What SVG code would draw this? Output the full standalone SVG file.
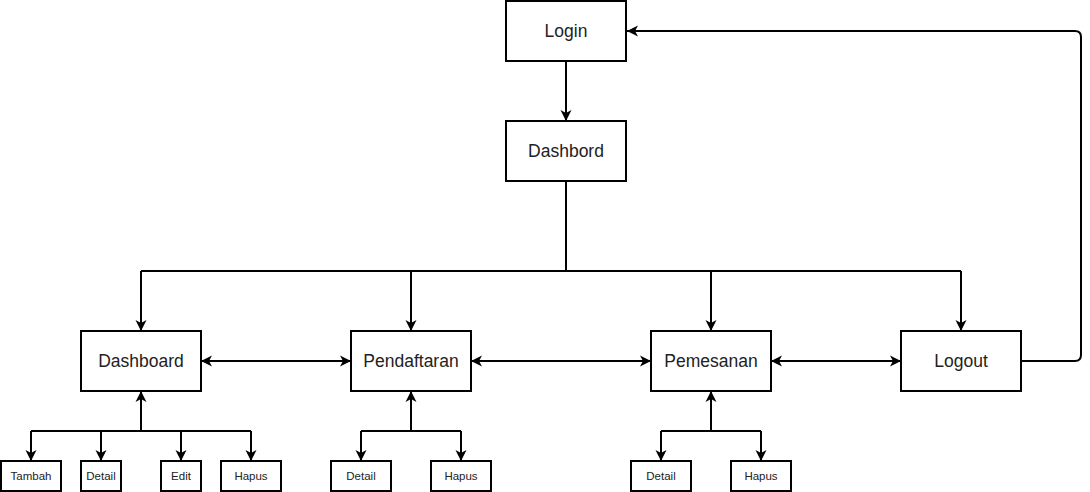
<svg xmlns="http://www.w3.org/2000/svg" width="1090" height="492" viewBox="0 0 1090 492">
<style>
.box{fill:#fff;stroke:#000;stroke-width:2}
.lbl{font-family:"Liberation Sans",Arial,sans-serif;font-size:17.5px;fill:#222;text-anchor:middle}
.sm{font-family:"Liberation Sans",Arial,sans-serif;font-size:11.5px;fill:#222;text-anchor:middle}
.ln{fill:none;stroke:#000;stroke-width:2}
.ar{marker-end:url(#ah)}
.bi{marker-start:url(#ah);marker-end:url(#ah)}
</style>
<defs>
<marker id="ah" markerUnits="userSpaceOnUse" markerWidth="13" markerHeight="13" viewBox="0 0 13 13" refX="12" refY="6.5" orient="auto-start-reverse">
<path d="M1,1 L12,6.5 L1,12 L4,6.5 z" fill="#000"/>
</marker>
</defs>
<rect width="1090" height="492" fill="#fff"/>
<g id="connectors">
<path class="ln ar" d="M566,61 L566,121"/>
<path class="ln" d="M566,181 L566,271 M141,271 L961,271"/>
<path class="ln ar" d="M141,271 L141,331"/>
<path class="ln ar" d="M411,271 L411,331"/>
<path class="ln ar" d="M711,271 L711,331"/>
<path class="ln ar" d="M961,271 L961,331"/>
<path class="ln bi" d="M201,361 L351,361"/>
<path class="ln bi" d="M471,361 L651,361"/>
<path class="ln bi" d="M771,361 L901,361"/>
<path class="ln ar" d="M1021,361 L1075,361 Q1081,361 1081,355 L1081,37 Q1081,31 1075,31 L627,31"/>
<path class="ln ar" d="M141,431 L141,391"/>
<path class="ln" d="M31,431 L251,431"/>
<path class="ln ar" d="M31,431 L31,461"/>
<path class="ln ar" d="M101,431 L101,461"/>
<path class="ln ar" d="M181,431 L181,461"/>
<path class="ln ar" d="M251,431 L251,461"/>
<path class="ln ar" d="M411,431 L411,391"/>
<path class="ln" d="M361,431 L461,431"/>
<path class="ln ar" d="M361,431 L361,461"/>
<path class="ln ar" d="M461,431 L461,461"/>
<path class="ln ar" d="M711,431 L711,391"/>
<path class="ln" d="M661,431 L761,431"/>
<path class="ln ar" d="M661,431 L661,461"/>
<path class="ln ar" d="M761,431 L761,461"/>
</g>
<g id="login"><rect class="box" x="506" y="1" width="120" height="60"/><text class="lbl" x="566" y="37">Login</text></g>
<g id="dashbord"><rect class="box" x="506" y="121" width="120" height="60"/><text class="lbl" x="566" y="157">Dashbord</text></g>
<g id="dashboard"><rect class="box" x="81" y="331" width="120" height="60"/><text class="lbl" x="141" y="367">Dashboard</text></g>
<g id="pendaftaran"><rect class="box" x="351" y="331" width="120" height="60"/><text class="lbl" x="411" y="367">Pendaftaran</text></g>
<g id="pemesanan"><rect class="box" x="651" y="331" width="120" height="60"/><text class="lbl" x="711" y="367">Pemesanan</text></g>
<g id="logout"><rect class="box" x="901" y="331" width="120" height="60"/><text class="lbl" x="961" y="367">Logout</text></g>
<g id="tambah"><rect class="box" x="1" y="461" width="60" height="30"/><text class="sm" x="31" y="480">Tambah</text></g>
<g id="detail1"><rect class="box" x="81" y="461" width="40" height="30"/><text class="sm" x="101" y="480">Detail</text></g>
<g id="edit"><rect class="box" x="161" y="461" width="40" height="30"/><text class="sm" x="181" y="480">Edit</text></g>
<g id="hapus1"><rect class="box" x="221" y="461" width="60" height="30"/><text class="sm" x="251" y="480">Hapus</text></g>
<g id="detail2"><rect class="box" x="331" y="461" width="60" height="30"/><text class="sm" x="361" y="480">Detail</text></g>
<g id="hapus2"><rect class="box" x="431" y="461" width="60" height="30"/><text class="sm" x="461" y="480">Hapus</text></g>
<g id="detail3"><rect class="box" x="631" y="461" width="60" height="30"/><text class="sm" x="661" y="480">Detail</text></g>
<g id="hapus3"><rect class="box" x="731" y="461" width="60" height="30"/><text class="sm" x="761" y="480">Hapus</text></g>
</svg>
